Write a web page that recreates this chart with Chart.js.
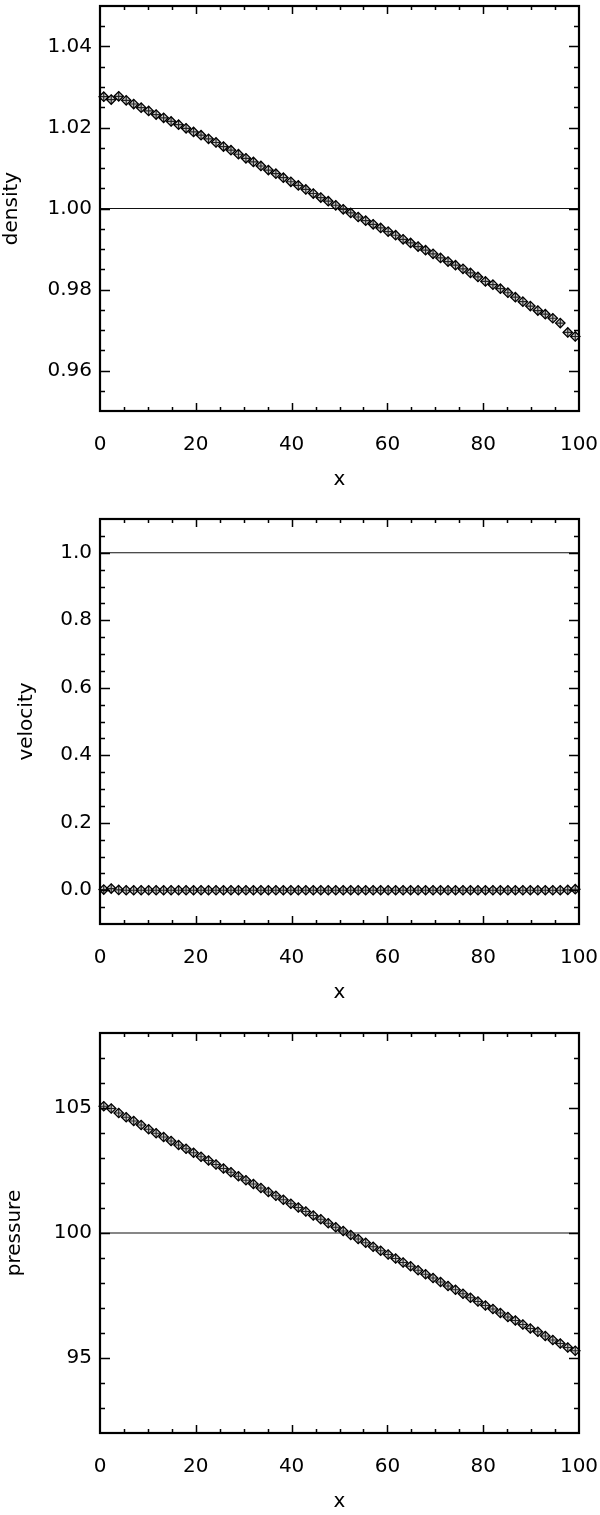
<!DOCTYPE html>
<html><head><meta charset="utf-8">
<script src="https://cdn.jsdelivr.net/npm/chart.js@4"></script>
<style>
html,body{margin:0;padding:0;background:#fff;}
.wrap{position:absolute;left:0;width:600px;height:505px;}
canvas{display:block;}
</style></head><body>
<div class="wrap" style="top:0px"><canvas id="c1" width="600" height="505"></canvas></div>
<div class="wrap" style="top:505px"><canvas id="c2" width="600" height="505"></canvas></div>
<div class="wrap" style="top:1010px"><canvas id="c3" width="600" height="505"></canvas></div>
<script>
// cell-centre positions (64 cells on 0..100)
const xValues = [0.781, 2.344, 3.906, 5.469, 7.031, 8.594, 10.156, 11.719, 13.281, 14.844, 16.406, 17.969, 19.531, 21.094, 22.656, 24.219, 25.781, 27.344, 28.906, 30.469, 32.031, 33.594, 35.156, 36.719, 38.281, 39.844, 41.406, 42.969, 44.531, 46.094, 47.656, 49.219, 50.781, 52.344, 53.906, 55.469, 57.031, 58.594, 60.156, 61.719, 63.281, 64.844, 66.406, 67.969, 69.531, 71.094, 72.656, 74.219, 75.781, 77.344, 78.906, 80.469, 82.031, 83.594, 85.156, 86.719, 88.281, 89.844, 91.406, 92.969, 94.531, 96.094, 97.656, 99.219];

const density = [
1.0276, 1.0269, 1.0277, 1.0267, 1.0258, 1.0249, 1.0241, 1.0232, 1.0224, 1.0215,
1.0207, 1.0198, 1.0189, 1.0181, 1.0172, 1.0163, 1.0153, 1.0144, 1.0134, 1.0124,
1.0115, 1.0105, 1.0095, 1.0086, 1.0076, 1.0066, 1.0057, 1.0047, 1.0037, 1.0027,
1.0018, 1.0008, 0.9998, 0.9989, 0.9979, 0.9970, 0.9961, 0.9952, 0.9943, 0.9934,
0.9924, 0.9915, 0.9906, 0.9897, 0.9888, 0.9878, 0.9869, 0.9860, 0.9851, 0.9841,
0.9831, 0.9820, 0.9812, 0.9802, 0.9792, 0.9781, 0.9770, 0.9759, 0.9748, 0.9739,
0.9729, 0.9717, 0.9694, 0.9684];

const velocity = [
0.002, 0.005, 0.001, 0.000, 0.000, 0.000, 0.000, 0.000, 0.000, 0.000,
0.000, 0.000, 0.000, 0.000, 0.000, 0.000, 0.000, 0.000, 0.000, 0.000,
0.000, 0.000, 0.000, 0.000, 0.000, 0.000, 0.000, 0.000, 0.000, 0.000,
0.000, 0.000, 0.000, 0.000, 0.000, 0.000, 0.000, 0.000, 0.000, 0.000,
0.000, 0.000, 0.000, 0.000, 0.000, 0.000, 0.000, 0.000, 0.000, 0.000,
0.000, 0.000, 0.000, 0.000, 0.000, 0.000, 0.000, 0.000, 0.000, 0.000,
0.000, 0.000, 0.001, 0.003];

const pressure = [
105.07, 104.98, 104.80, 104.63, 104.48, 104.32, 104.15, 103.99, 103.84, 103.68,
103.52, 103.37, 103.21, 103.05, 102.90, 102.74, 102.58, 102.43, 102.27, 102.11,
101.96, 101.80, 101.64, 101.49, 101.33, 101.17, 101.02, 100.86, 100.70, 100.55,
100.39, 100.23, 100.08, 99.92, 99.76, 99.61, 99.45, 99.29, 99.14, 98.98,
98.82, 98.67, 98.51, 98.35, 98.20, 98.04, 97.88, 97.73, 97.57, 97.41,
97.26, 97.10, 96.96, 96.80, 96.64, 96.50, 96.34, 96.18, 96.05, 95.88,
95.72, 95.58, 95.42, 95.29];

const xTicks = [0, 20, 40, 60, 80, 100];
const xTickLabels = ['0', '20', '40', '60', '80', '100'];
const densityTicks = [0.96, 0.98, 1.00, 1.02, 1.04];
const densityTickLabels = ['0.96', '0.98', '1.00', '1.02', '1.04'];
const velocityTicks = [0.0, 0.2, 0.4, 0.6, 0.8, 1.0];
const velocityTickLabels = ['0.0', '0.2', '0.4', '0.6', '0.8', '1.0'];
const pressureTicks = [95, 100, 105];
const pressureTickLabels = ['95', '100', '105'];
const densityRef = 1.0, velocityRef = 1.0, pressureRef = 100;

const FONT = "'DejaVu Sans'";
const TXT = '#000';

const framePlugin = {
  id: 'frame',
  afterDatasetsDraw(chart, args, o) {
    const {ctx, chartArea: a, scales: {x, y}} = chart;
    ctx.save();
    ctx.strokeStyle = '#000';
    ctx.lineWidth = 1.5;
    ctx.beginPath();
    const isMaj = (v, m) => Math.abs(v / m - Math.round(v / m)) < 1e-6;
    let n = Math.round((x.max - x.min) / o.xMinor);
    for (let k = 1; k < n; k++) {
      const v = x.min + k * o.xMinor;
      const px = Math.round(x.getPixelForValue(v)) + 0.5;
      const len = isMaj(v, o.xMajor) ? 8 : 4;
      ctx.moveTo(px, a.bottom); ctx.lineTo(px, a.bottom - len);
      ctx.moveTo(px, a.top); ctx.lineTo(px, a.top + len);
    }
    n = Math.round((y.max - y.min) / o.yMinor);
    for (let k = 1; k < n; k++) {
      const v = y.min + k * o.yMinor;
      const py = Math.round(y.getPixelForValue(v)) + 0.5;
      const len = isMaj(v, o.yMajor) ? 10 : 5;
      ctx.moveTo(a.left, py); ctx.lineTo(a.left + len, py);
      ctx.moveTo(a.right, py); ctx.lineTo(a.right - len, py);
    }
    ctx.stroke();
    ctx.lineWidth = 2.2;
    ctx.strokeRect(a.left, a.top, a.right - a.left, a.bottom - a.top);
    ctx.restore();
  }
};

function makeChart(id, cfg) {
  const H = 505;
  const pts = xValues.map((xv, i) => ({x: xv, y: cfg.values[i]}));
  new Chart(document.getElementById(id), {
    type: 'line',
    data: {
      datasets: [
        {data: pts, showLine: false, pointStyle: 'rectRot', pointRadius: 4.7,
         pointBorderWidth: 1.3, pointBorderColor: '#000', pointBackgroundColor: 'rgba(110,110,110,0.35)', clip: false},
        {data: pts, showLine: false, pointStyle: 'cross', pointRadius: 4.7,
         pointBorderWidth: 1.2, pointBorderColor: '#000', clip: false},
        {data: [{x: 0, y: cfg.ref}, {x: 100, y: cfg.ref}], borderColor: '#111', borderWidth: 1.2,
         pointRadius: 0, fill: false}
      ]
    },
    options: {
      responsive: false,
      animation: false,
      events: [],
      layout: {padding: {top: cfg.top, right: 21, bottom: 0, left: 0}},
      plugins: {
        legend: {display: false}, tooltip: {enabled: false},
        frame: {xMinor: 5, xMajor: 20, yMinor: cfg.yMinor, yMajor: cfg.yMajor}
      },
      scales: {
        x: {
          type: 'linear', min: 0, max: 100,
          grid: {display: false, drawTicks: false}, border: {display: false},
          afterBuildTicks: s => { s.ticks = xTicks.map(v => ({value: v})); },
          ticks: {padding: 22, color: TXT, font: {family: FONT, size: 20},
                  callback: (v, i) => xTickLabels[i], maxRotation: 0, autoSkip: false},
          title: {display: true, text: 'x', color: TXT, font: {family: FONT, size: 20, lineHeight: 1},
                  padding: {top: 0, bottom: cfg.xTitlePad}},
          afterFit: s => { s.height = H - cfg.plotBottom; s.paddingLeft = 0; s.paddingRight = 0; }
        },
        y: {
          type: 'linear', min: cfg.min, max: cfg.max,
          grid: {display: false, drawTicks: false}, border: {display: false},
          afterBuildTicks: s => { s.ticks = cfg.ticks.map(v => ({value: v})); },
          ticks: {padding: 8, color: TXT, font: {family: FONT, size: 20},
                  callback: (v, i) => cfg.labels[i], autoSkip: false},
          title: {display: true, text: cfg.title, color: TXT, font: {family: FONT, size: 20, lineHeight: 1},
                  padding: {top: cfg.yTitlePad, bottom: 0}},
          afterFit: s => { s.width = 100; s.paddingTop = 0; s.paddingBottom = 0; }
        }
      }
    },
    plugins: [framePlugin]
  });
}

makeChart('c1', {values: density, ref: densityRef, min: 0.95, max: 1.05,
  ticks: densityTicks, labels: densityTickLabels, yMinor: 0.005, yMajor: 0.02,
  title: 'density', yTitlePad: 1.5, top: 6, plotBottom: 411, xTitlePad: 15});
makeChart('c2', {values: velocity, ref: velocityRef, min: -0.1, max: 1.1,
  ticks: velocityTicks, labels: velocityTickLabels, yMinor: 0.05, yMajor: 0.2,
  title: 'velocity', yTitlePad: 17, top: 14, plotBottom: 419, xTitlePad: 7});
makeChart('c3', {values: pressure, ref: pressureRef, min: 92, max: 108,
  ticks: pressureTicks, labels: pressureTickLabels, yMinor: 1, yMajor: 5,
  title: 'pressure', yTitlePad: 5, top: 23, plotBottom: 423, xTitlePad: 3});
</script>
</body></html>
